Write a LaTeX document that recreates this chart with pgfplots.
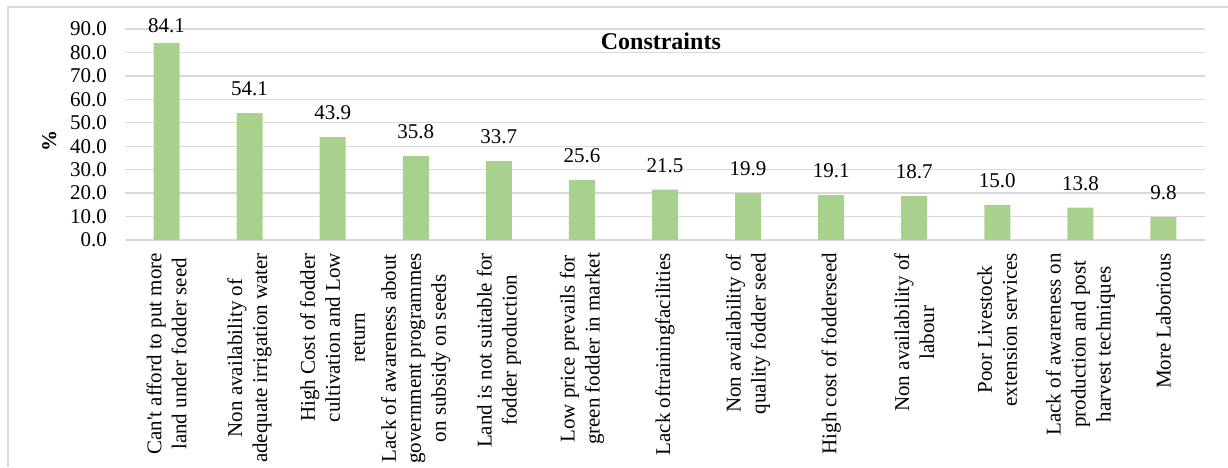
\documentclass[border=0pt]{standalone}
\usepackage{pgfplots}
\pgfplotsset{compat=1.18}
\usepackage{fontspec}
\setmainfont{Liberation Serif}
\definecolor{bargreen}{HTML}{A9D18E}
\definecolor{gridgray}{HTML}{D9D9D9}
\begin{document}
\begin{tikzpicture}
\useasboundingbox (-62.5pt,-113.5pt) rectangle (551.5pt,120pt);
% chart frame (left and top edges visible)
\draw[gridgray, line width=0.6pt] (-58.5pt,-113.5pt) -- (-58.5pt,116.5pt) -- (551.5pt,116.5pt);
\begin{axis}[
    at={(0,0)}, anchor=south west,
    scale only axis,
    width=540pt, height=105.5pt,
    ybar, bar width=13pt,
    xmin=-0.5, xmax=12.5,
    ymin=0, ymax=90,
    ytick={0,10,...,90},
    xtick=data,
    xticklabels={
        {Can\textquotesingle t afford to put more\\land under fodder seed},
        {Non availability of\\adequate irrigation water},
        {High Cost of fodder\\cultivation and Low\\return},
        {Lack of awareness about\\government programmes\\on subsidy on seeds},
        {Land is not suitable for\\fodder production},
        {Low price prevails for\\green fodder in market},
        {Lack oftrainingfacilities},
        {Non availability of\\quality fodder seed},
        {High cost of fodderseed},
        {Non availability of\\labour},
        {Poor Livestock\\extension services},
        {Lack of awareness on\\production and post\\harvest techniques},
        {More Laborious}},
    xticklabel style={rotate=90, anchor=east, align=center, xshift=-3pt,
        font=\fontsize{10.5}{12.5}\selectfont},
    yticklabel style={font=\fontsize{10.5}{12.5}\selectfont, xshift=-5.5pt},
    major tick length=0pt,
    ymajorgrids,
    grid style={gridgray, line width=0.7pt},
    axis x line*=bottom,
    x axis line style={draw=gridgray, line width=0.7pt},
    axis y line*=left,
    y axis line style={draw=none},
    /pgf/number format/assume math mode=true,
    yticklabel={\pgfmathprintnumber[fixed, fixed zerofill, precision=1]{\tick}},
    ylabel={\textbf{\%}},
    ylabel style={font=\fontsize{10.5}{12.5}\selectfont, at={(ticklabel cs:0.5)}, xshift=-3pt},
    visualization depends on=rawy \as \ry,
    nodes near coords,
    nodes near coords style={font=\fontsize{10.5}{12.5}\selectfont, text=black,
        yshift={(\ry>80 ? 1.5 : 5)*1pt},
        /pgf/number format/.cd, fixed, fixed zerofill, precision=1, assume math mode=true},
    clip=false,
]
\addplot[fill=bargreen, draw=none] coordinates {
    (0,84.1) (1,54.1) (2,43.9) (3,35.8) (4,33.7) (5,25.6) (6,21.5)
    (7,19.9) (8,19.1) (9,18.7) (10,15.0) (11,13.8) (12,9.8)
};
\node[font=\fontsize{12}{14}\selectfont\bfseries] at (axis cs:5.95,84.7) {Constraints};
\end{axis}
\end{tikzpicture}
\end{document}
